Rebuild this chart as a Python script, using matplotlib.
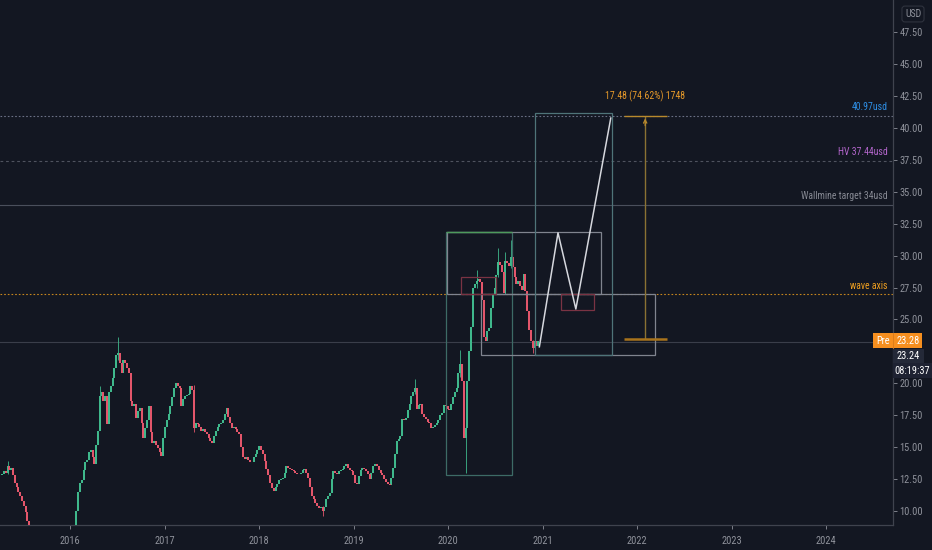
import numpy as np
import pandas as pd
import matplotlib
matplotlib.use("Agg")
import matplotlib.pyplot as plt
import matplotlib.dates as mdates
from matplotlib.patches import Rectangle

plt.rcParams['font.family'] = ['Roboto Condensed', 'Liberation Sans Narrow', 'Roboto', 'DejaVu Sans']

# --- Weekly closes, first week starts 2015-04-13 ---
start_week = "2015-04-13"
first_open = 12.8
closes = [
    12.9, 13.1, 13.0, 13.5, 13.2, 13.4, 12.8, 12.2, 11.9, 11.5, 11.2, 10.8, 10.4, 9.9, 9.2,
    8.4, 7.9, 7.4, 7.0, 6.6, 6.9, 7.3, 7.0, 6.6, 6.2, 6.0, 6.3, 6.8, 7.1, 6.7, 6.4, 6.2,
    6.5, 6.9, 7.3, 7.0, 6.8, 7.2, 7.6, 7.9, 8.4,
    10.0, 11.5, 12.2, 12.4, 13.2, 13.8, 14.0, 14.6, 14.8, 14.2,
    13.7, 15.2, 16.3, 19.0, 19.3, 18.6, 19.0, 16.8, 19.3, 19.8,
    20.4, 21.2, 22.2, 22.4, 21.6, 20.8, 21.8, 21.6, 21.2, 20.8,
    18.6, 18.2, 18.4, 17.3, 17.8, 18.1, 16.9, 15.7, 16.5, 17.1,
    18.2, 16.2, 15.3, 15.5, 15.2, 14.9, 14.6, 14.3, 15.7, 16.6,
    17.1, 17.6, 18.2, 18.9, 19.6, 20.0, 19.8, 19.6, 18.2, 18.8,
    19.0, 19.1, 19.2, 19.8, 19.5, 16.5, 16.9, 16.8, 16.6, 16.3,
    16.4, 16.2, 16.0, 15.7, 15.5, 15.3, 15.9, 16.3, 16.6, 16.8,
    16.9, 17.1, 17.6, 18.1, 17.4, 16.9, 16.5, 16.6, 16.4, 16.2,
    16.0, 15.0, 14.2, 14.1, 14.2, 14.0, 13.8, 13.8, 14.2, 14.5,
    14.8, 15.1, 14.8, 14.5, 13.9, 13.3, 12.8, 12.2, 11.8, 11.6,
    11.9, 12.1, 12.4, 12.5, 12.6, 13.0, 13.5, 13.4, 13.3, 13.2,
    13.1, 13.0, 12.9, 12.9, 13.0, 13.2, 13.3, 13.0, 12.6, 11.9,
    11.2, 10.9, 10.6, 10.4, 10.2, 10.3, 10.0, 10.3, 10.9, 11.2,
    11.4, 12.5, 13.1, 13.0, 12.9, 13.1, 13.2, 13.3, 13.5, 13.7,
    13.4, 13.2, 13.1, 12.8, 12.2, 12.1, 12.7, 13.2, 13.4, 13.3,
    13.1, 12.9, 12.5, 13.0, 13.5, 13.7, 13.5, 13.2, 13.0, 12.8,
    12.5, 12.3, 12.1, 12.0, 12.6, 13.4, 14.5, 15.5, 15.6, 15.9,
    17.2, 17.1, 17.3, 17.9, 18.4, 19.0, 19.3, 19.6, 18.0, 18.3,
    18.4, 17.6, 17.4, 17.2, 17.0, 16.9, 16.5, 16.6, 16.7, 16.9,
    17.1, 17.5, 17.7, 18.3, 18.2, 18.0, 17.9, 18.4, 18.9, 19.3,
    19.6, 20.8, 21.5, 20.2, 15.7, 16.5, 20.2, 22.5, 24.4, 27.5,
    27.8, 28.0, 28.2, 27.9, 26.5, 23.6, 23.3, 24.1, 24.3, 25.9,
    27.0, 27.5, 28.5, 29.5, 29.3, 28.7, 27.1, 29.6, 29.4, 29.2,
    29.9, 29.1, 28.3, 27.8, 28.0, 27.6, 27.3, 28.6, 27.2, 25.7,
    24.2, 23.3, 22.8, 23.3, 22.9, 23.28,
]

# visible wicks (week index, low, high)
wick_weeks = [3, 54, 64, 106, 177, 228, 253, 256, 262, 274, 278, 281, 293]
wick_lows = [12.9, 17.8, 21.8, 16.2, 9.6, 19.2, 20.5, 13.0, 27.5, 28.3, 27.0, 29.0, 22.4]
wick_highs = [13.9, 19.8, 23.6, 19.9, 10.4, 20.3, 22.6, 16.7, 28.9, 30.6, 30.3, 31.2, 23.4]

# --- Horizontal levels ---
level_values = [40.97, 37.44, 34.0, 26.97]
level_labels = ["40.97usd", "HV 37.44usd", "Wallmine target 34usd", "wave axis"]

# --- Drawn boxes ---
box_start = ["2019-12-23", "2019-12-27", "2020-05-08", "2020-12-01", "2020-02-19", "2021-03-12"]
box_end = ["2020-09-04", "2021-08-14", "2022-03-10", "2021-09-25", "2020-07-04", "2021-07-17"]
box_low = [12.8, 26.99, 22.2, 22.2, 26.99, 25.73]
box_high = [31.85, 31.85, 26.99, 41.17, 28.33, 26.99]

# --- Projected zigzag path ---
path_dates = ["2020-12-19", "2021-03-01", "2021-05-09", "2021-09-21"]
path_prices = [22.86, 31.79, 25.82, 40.78]

# --- Price range measure ---
measure_date = "2022-02-01"
measure_from = "2021-11-10"
measure_to = "2022-04-26"
measure_low = 23.49
measure_high = 40.97
measure_label = "17.48 (74.62%) 1748"

last_price = 23.24
pre_price = 23.28
clock_text = "08:19:37"

# --- Style ---
BG = "#131722"
UP = "#3fb88c"
DN = "#e3566b"
AXC = "#8f929b"

fig = plt.figure(figsize=(9.32, 5.5), dpi=100, facecolor=BG)
ax = fig.add_axes([0, 25 / 550, 893 / 932, 525 / 550], facecolor=BG)

dates = pd.date_range(start_week, periods=len(closes), freq="7D")
x = mdates.date2num(dates)
c = np.array(closes)
o = np.r_[first_open, c[:-1]]
up = c >= o

for i, lo, hi in zip(wick_weeks, wick_lows, wick_highs):
    ax.vlines(x[i], lo, hi, color=UP if up[i] else DN, lw=0.6, zorder=2)
ax.vlines(x[up], o[up], c[up], color=UP, lw=1.45, zorder=3)
ax.vlines(x[~up], o[~up], c[~up], color=DN, lw=1.45, zorder=3)

# levels
lvl_colors = ["#6b7186", "#4f535f", "#4a4f5c", "#c7861e"]
lvl_styles = [(0, (1.5, 1.8)), (0, (2.5, 2.5)), "-", (0, (1.5, 1.8))]
txt_colors = ["#2e8fe6", "#b366cc", "#868993", "#f0a020"]
for v, lab, lc, ls, tc in zip(level_values, level_labels, lvl_colors, lvl_styles, txt_colors):
    ax.axhline(v, color=lc, lw=0.8, ls=ls, zorder=1)
    ax.annotate(lab, xy=(888 / 893, v), xycoords=("axes fraction", "data"),
                xytext=(0, 2.5), textcoords="offset points", ha="right", va="bottom",
                color=tc, fontsize=7)

# current price line
ax.axhline(last_price, color="#3a3e4a", lw=0.8, zorder=1)

# boxes
box_colors = ["#3d6b66", "#80848f", "#80848f", "#4f7479", "#7a3343", "#7a3343"]
for s, e, lo, hi, bc in zip(box_start, box_end, box_low, box_high, box_colors):
    x0 = mdates.date2num(pd.Timestamp(s))
    x1 = mdates.date2num(pd.Timestamp(e))
    ax.add_patch(Rectangle((x0, lo), x1 - x0, hi - lo, fill=False, edgecolor=bc, lw=0.9, zorder=4))
# green top edge of the first box
ax.hlines(box_high[0], mdates.date2num(pd.Timestamp(box_start[0])),
          mdates.date2num(pd.Timestamp(box_end[0])), color="#4e9a5c", lw=1.0, zorder=5)

# zigzag
pdx = mdates.date2num(pd.to_datetime(path_dates))
ax.plot(pdx, path_prices, color="#d6d8de", lw=1.1, zorder=6)

# measure
mx = mdates.date2num(pd.Timestamp(measure_date))
m0 = mdates.date2num(pd.Timestamp(measure_from))
m1 = mdates.date2num(pd.Timestamp(measure_to))
ax.vlines(mx, measure_low, measure_high, color="#8a7233", lw=1.0, zorder=6)
ax.annotate("", xy=(mx, measure_high), xytext=(mx, measure_high - 1.0),
            arrowprops=dict(arrowstyle="->", color="#b8892c", lw=0.9, mutation_scale=6), zorder=7)
ax.hlines(measure_high, m0, m1, color="#b8892c", lw=1.0, zorder=6)
ax.hlines(measure_low, m0, m1, color="#a9741c", lw=1.8, zorder=6)
ax.annotate(measure_label, xy=(mx, measure_high), xytext=(0, 10), textcoords="offset points",
            ha="center", va="bottom", color="#e79a2a", fontsize=7)

# axes
xl0 = mdates.date2num(pd.Timestamp("2015-04-05"))
xl1 = mdates.date2num(pd.Timestamp("2024-09-16"))
ax.set_xlim(xl0, xl1)
ax.set_ylim(8.9, 50.03)

years = [2016, 2017, 2018, 2019, 2020, 2021, 2022, 2023, 2024]
ax.set_xticks([mdates.date2num(pd.Timestamp(f"{y}-01-01")) for y in years])
ax.set_xticklabels([str(y) for y in years])
# 22.50 sits under the price badges in the reference, so it is left out
yt = [10.0, 12.5, 15.0, 17.5, 20.0, 25.0, 27.5, 30.0, 32.5, 35.0, 37.5, 40.0, 42.5, 45.0, 47.5]
ax.set_yticks(yt)
ax.set_yticklabels([f"{v:.2f}" for v in yt])
ax.yaxis.tick_right()
ax.tick_params(axis="y", colors=AXC, labelsize=7.5, length=3, width=0.6, pad=1.5)
ax.tick_params(axis="x", colors=AXC, labelsize=7.5, length=3, width=0.6, pad=5)
for side in ["left", "top"]:
    ax.spines[side].set_visible(False)
for side in ["right", "bottom"]:
    ax.spines[side].set_color("#3f434e")
    ax.spines[side].set_linewidth(0.9)

# right-axis badges
fig.text(913 / 932, 1 - 14 / 550, "USD", ha="center", va="center", color=AXC, fontsize=7,
         bbox=dict(boxstyle="round,pad=0.3", fc=BG, ec="#2f333e", lw=0.8))


def fig_box(x0, y0, x1, y1, fc):
    fig.add_artist(Rectangle((x0 / 932, 1 - y1 / 550), (x1 - x0) / 932, (y1 - y0) / 550,
                             transform=fig.transFigure, facecolor=fc, edgecolor="none", zorder=10))


fig_box(873, 333, 922, 348, "#f68f1f")
fig.add_artist(plt.Line2D([893 / 932, 893 / 932], [1 - 348 / 550, 1 - 333 / 550],
                          transform=fig.transFigure, color="#d8791a", lw=0.6, zorder=11))
fig.text(883 / 932, 1 - 340.5 / 550, "Pre", ha="center", va="center", color="white", fontsize=7.5, zorder=12)
fig.text(908 / 932, 1 - 340.5 / 550, f"{pre_price:.2f}", ha="center", va="center", color="white",
         fontsize=7.5, zorder=12)
fig_box(893, 349, 924, 363, "#242938")
fig.text(908 / 932, 1 - 356 / 550, f"{last_price:.2f}", ha="center", va="center", color="white",
         fontsize=7.5, zorder=12)
fig_box(893, 363, 932, 378, "#1e2232")
fig.text(912 / 932, 1 - 370.5 / 550, clock_text, ha="center", va="center", color="white",
         fontsize=7.5, zorder=12)

fig.savefig("out.png", dpi=100, facecolor=BG)
